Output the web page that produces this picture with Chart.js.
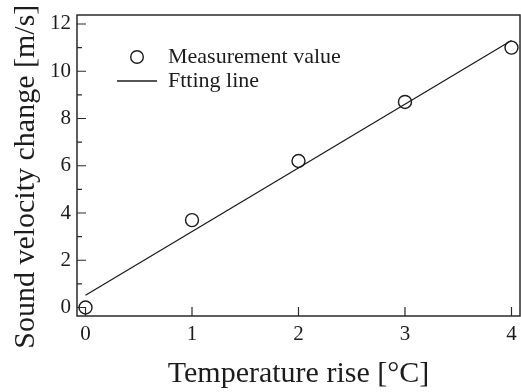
<!DOCTYPE html>
<html lang="en">
<head>
    <meta charset="UTF-8">
    <script src="https://cdnjs.cloudflare.com/ajax/libs/Chart.js/4.4.1/chart.umd.min.js"></script>
    <title>Sound velocity change vs temperature rise</title>
    <style>
        html, body { margin: 0; padding: 0; background: #fff; }
        #chart-container { width: 521px; height: 392px; }
    </style>
</head>
<body>
    <div id="chart-container">
        <canvas id="velocityChart" width="521" height="392"></canvas>
    </div>

    <script>
        // dados
        const temperatureRise = [0, 1, 2, 3, 4];
        const velocityChange = [0, 3.7, 6.2, 8.7, 11.0];
        const fitX = [0, 4];
        const fitY = [0.52, 11.3];
        const xTicks = [0, 1, 2, 3, 4];
        const yTicks = [0, 2, 4, 6, 8, 10, 12];
        const yMinorTicks = [1, 3, 5, 7, 9, 11];
        const legendLabels = ['Measurement value', 'Ftting line'];

        const serif = "'Liberation Serif', 'Times New Roman', serif";
        const ink = '#1c1c1c';

        // ícone do círculo da legenda (imagem para não virar elipse)
        const circleIcon = document.createElement('canvas');
        circleIcon.width = 16;
        circleIcon.height = 16;
        const ic = circleIcon.getContext('2d');
        ic.strokeStyle = ink;
        ic.lineWidth = 1.4;
        ic.beginPath();
        ic.arc(8, 8, 6.3, 0, Math.PI * 2);
        ic.stroke();

        // moldura e ticks para dentro
        const framePlugin = {
            id: 'frame',
            afterLayout(chart) {
                const a = chart.chartArea;
                chart.legend.left = a.left + 38;
                chart.legend.top = a.top + 29;
            },
            afterDraw(chart) {
                const ctx = chart.ctx;
                const a = chart.chartArea;
                const x = chart.scales.x;
                const y = chart.scales.y;
                ctx.save();
                ctx.strokeStyle = '#2a2a2a';
                ctx.lineWidth = 1.5;
                ctx.strokeRect(a.left, a.top, a.right - a.left, a.bottom - a.top);
                ctx.lineWidth = 1.2;
                ctx.beginPath();
                xTicks.forEach(v => {
                    const px = x.getPixelForValue(v);
                    ctx.moveTo(px, a.bottom);
                    ctx.lineTo(px, a.bottom - 9);
                });
                yTicks.forEach(v => {
                    const py = y.getPixelForValue(v);
                    ctx.moveTo(a.left, py);
                    ctx.lineTo(a.left + 9, py);
                });
                yMinorTicks.forEach(v => {
                    const py = y.getPixelForValue(v);
                    ctx.moveTo(a.left, py);
                    ctx.lineTo(a.left + 5, py);
                });
                ctx.stroke();
                ctx.restore();
            }
        };

        const ctx = document.getElementById('velocityChart').getContext('2d');
        new Chart(ctx, {
            type: 'scatter',
            data: {
                datasets: [
                    {
                        label: legendLabels[0],
                        data: temperatureRise.map((t, i) => ({ x: t, y: velocityChange[i] })),
                        pointStyle: 'circle',
                        pointRadius: 6.5,
                        pointBorderWidth: 1.4,
                        borderColor: ink,
                        backgroundColor: 'rgba(0,0,0,0)',
                        showLine: false,
                        clip: false
                    },
                    {
                        label: legendLabels[1],
                        data: fitX.map((t, i) => ({ x: t, y: fitY[i] })),
                        showLine: true,
                        borderColor: ink,
                        borderWidth: 1.3,
                        pointRadius: 0,
                        pointStyle: 'line',
                        backgroundColor: ink,
                        clip: false
                    }
                ]
            },
            options: {
                responsive: false,
                animation: false,
                layout: { autoPadding: false, padding: { top: 15, right: 1, left: 0, bottom: 0 } },
                scales: {
                    x: {
                        type: 'linear',
                        min: -0.08,
                        max: 4.08,
                        afterBuildTicks: s => { s.ticks = xTicks.map(v => ({ value: v })); },
                        afterFit: s => { s.height = 76; s.paddingLeft = 0; s.paddingRight = 0; },
                        grid: { display: false, drawTicks: false },
                        border: { display: false },
                        ticks: {
                            padding: 6,
                            color: ink,
                            font: { family: serif, size: 21 }
                        },
                        title: {
                            display: true,
                            text: 'Temperature rise [°C]',
                            color: ink,
                            font: { family: serif, size: 30 },
                            padding: { top: 0, bottom: 0 }
                        }
                    },
                    y: {
                        min: -0.36,
                        max: 12.38,
                        afterBuildTicks: s => { s.ticks = yTicks.map(v => ({ value: v })); },
                        afterFit: s => { s.width = 77; s.paddingTop = 0; s.paddingBottom = 0; },
                        grid: { display: false, drawTicks: false },
                        border: { display: false },
                        ticks: {
                            padding: 6,
                            color: ink,
                            font: { family: serif, size: 21 }
                        },
                        title: {
                            display: true,
                            text: 'Sound velocity change [m/s]   ',
                            color: ink,
                            font: { family: serif, size: 30 },
                            padding: { top: 8, bottom: 0 }
                        }
                    }
                },
                plugins: {
                    legend: {
                        position: 'chartArea',
                        align: 'start',
                        labels: {
                            usePointStyle: true,
                            pointStyleWidth: 40,
                            boxHeight: 10,
                            padding: 2,
                            color: ink,
                            font: { family: serif, size: 22 },
                            generateLabels: chart => {
                                const items = Chart.defaults.plugins.legend.labels.generateLabels(chart);
                                items[0].pointStyle = circleIcon;
                                items[1].lineWidth = 1.3;
                                return items;
                            }
                        }
                    },
                    tooltip: { enabled: false }
                }
            },
            plugins: [framePlugin]
        });
    </script>
</body>
</html>
